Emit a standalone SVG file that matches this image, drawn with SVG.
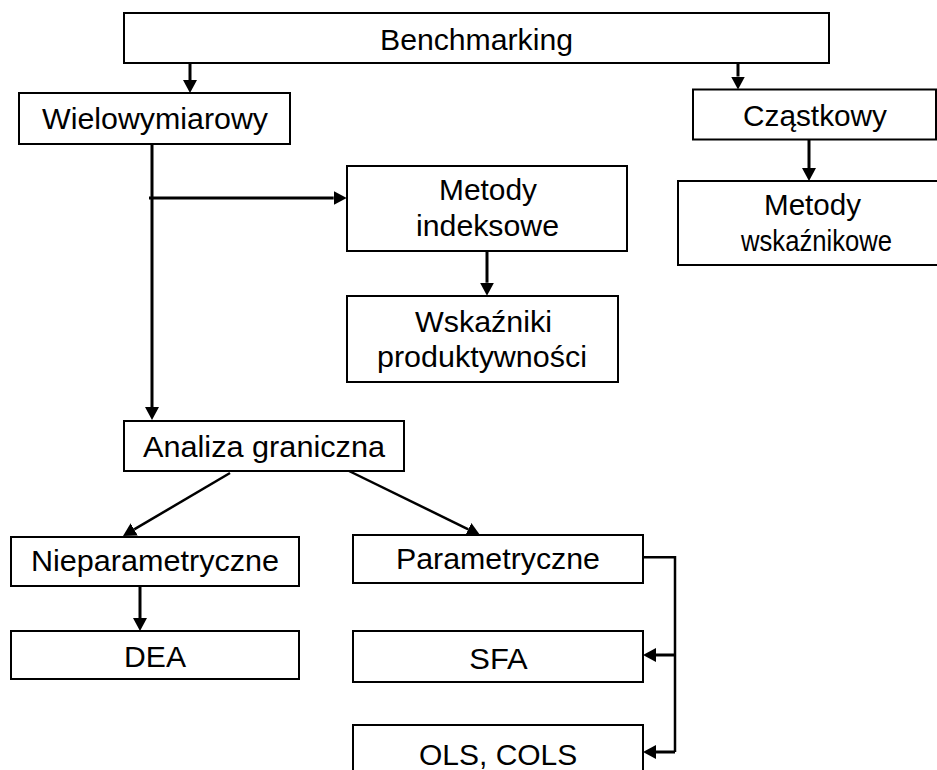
<svg xmlns="http://www.w3.org/2000/svg" width="937" height="770" viewBox="0 0 937 770">
<style>
.box{fill:#fff;stroke:#000;stroke-width:2}
.t{font-family:"Liberation Sans",Arial,sans-serif;font-size:30px;fill:#000}
.c{fill:none;stroke:#000;stroke-width:3}
.c2{fill:none;stroke:#000;stroke-width:2.5}
</style>
<defs>
<marker id="ah" markerUnits="userSpaceOnUse" viewBox="0 0 13 14" markerWidth="13" markerHeight="14" refX="0" refY="7" orient="auto">
<path d="M0,0 L13,7 L0,14 z" fill="#000"/>
</marker>
</defs>
<rect width="937" height="770" fill="#fff"/>
<g id="connectors">
<path class="c" d="M190,63 V80" marker-end="url(#ah)"/>
<path class="c" d="M738,63 V76.5" marker-end="url(#ah)"/>
<path class="c" d="M809,139 V168" marker-end="url(#ah)"/>
<path class="c" d="M152,144 V407" marker-end="url(#ah)"/>
<path class="c" d="M149,198 H333.7" marker-end="url(#ah)"/>
<path class="c" d="M487,251 V282.7" marker-end="url(#ah)"/>
<path class="c2" d="M230,473 L134.2,529.4" marker-end="url(#ah)"/>
<path class="c2" d="M347,470 L468.3,529.3" marker-end="url(#ah)"/>
<path class="c" d="M140,586 V618" marker-end="url(#ah)"/>
<path class="c2" d="M643,557.3 H675 V752"/>
<path class="c" d="M675,655 H656" marker-end="url(#ah)"/>
<path class="c" d="M675,752 H656" marker-end="url(#ah)"/>
</g>
<g id="benchmarking"><rect class="box" x="124" y="13" width="705" height="50"/><text class="t" x="380" y="49.5" textLength="193" lengthAdjust="spacingAndGlyphs">Benchmarking</text></g>
<g id="wielowymiarowy"><rect class="box" x="19" y="93" width="271" height="51"/><text class="t" x="42" y="129" textLength="226" lengthAdjust="spacingAndGlyphs">Wielowymiarowy</text></g>
<g id="czastkowy"><rect class="box" x="693" y="89.5" width="243" height="50"/><text class="t" x="743" y="126" textLength="144" lengthAdjust="spacingAndGlyphs">Cząstkowy</text></g>
<g id="metody-wskaznikowe"><rect class="box" x="678" y="181" width="274" height="84"/><text class="t" x="764" y="215" textLength="97" lengthAdjust="spacingAndGlyphs">Metody</text><text class="t" x="741" y="251" textLength="151" lengthAdjust="spacingAndGlyphs">wskaźnikowe</text></g>
<g id="metody-indeksowe"><rect class="box" x="347" y="166" width="280" height="85"/><text class="t" x="439" y="200" textLength="98" lengthAdjust="spacingAndGlyphs">Metody</text><text class="t" x="416" y="236" textLength="143" lengthAdjust="spacingAndGlyphs">indeksowe</text></g>
<g id="wskazniki"><rect class="box" x="347" y="296" width="271" height="86"/><text class="t" x="415" y="331.7" textLength="137" lengthAdjust="spacingAndGlyphs">Wskaźniki</text><text class="t" x="377" y="366.7" textLength="210" lengthAdjust="spacingAndGlyphs">produktywności</text></g>
<g id="analiza"><rect class="box" x="124" y="421" width="280" height="50"/><text class="t" x="143" y="456.7" textLength="242" lengthAdjust="spacingAndGlyphs">Analiza graniczna</text></g>
<g id="nieparametryczne"><rect class="box" x="11" y="537" width="288" height="49"/><text class="t" x="31" y="571" textLength="248" lengthAdjust="spacingAndGlyphs">Nieparametryczne</text></g>
<g id="parametryczne"><rect class="box" x="353" y="535" width="290" height="48"/><text class="t" x="396" y="569" textLength="204" lengthAdjust="spacingAndGlyphs">Parametryczne</text></g>
<g id="dea"><rect class="box" x="11" y="631" width="288" height="48"/><text class="t" x="124" y="666.7" textLength="62" lengthAdjust="spacingAndGlyphs">DEA</text></g>
<g id="sfa"><rect class="box" x="353" y="631" width="290" height="51"/><text class="t" x="469.3" y="669" textLength="58.4" lengthAdjust="spacingAndGlyphs">SFA</text></g>
<g id="ols"><rect class="box" x="353" y="725" width="290" height="60"/><text class="t" x="419" y="765" textLength="158.3" lengthAdjust="spacingAndGlyphs">OLS, COLS</text></g>
</svg>
